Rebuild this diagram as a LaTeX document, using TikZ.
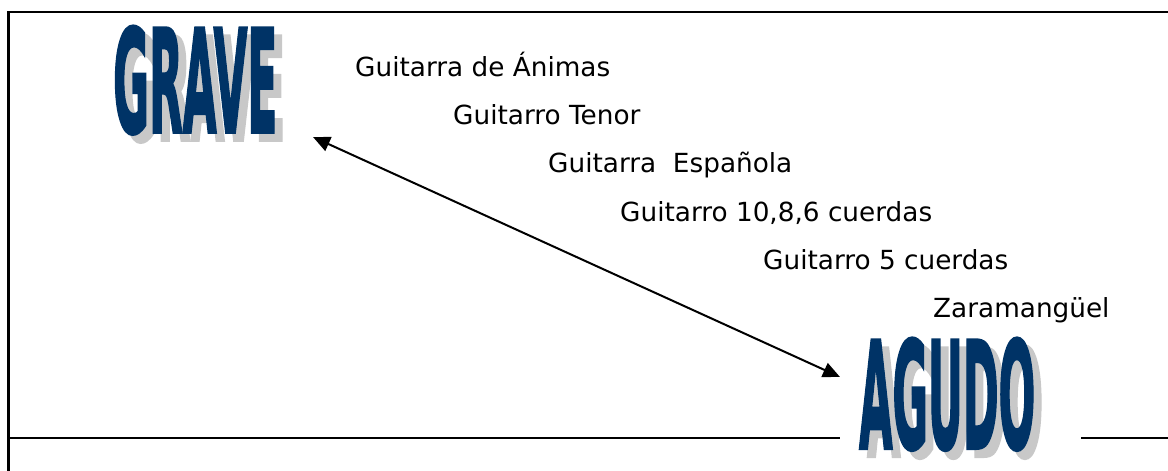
\documentclass[tikz,border=0pt]{standalone}
\usepackage{fontspec}
\setmainfont{DejaVu Sans}
\newfontfamily\heavyfont{DejaVu Sans Bold}[FakeBold=2.5]
\usepackage{graphicx}
\usetikzlibrary{arrows.meta}
\definecolor{navy}{RGB}{0,51,102}
\definecolor{shade}{RGB}{200,200,200}
\tikzset{
  frameline/.style={line width=2.6pt},
  lbl/.style={anchor=base west, inner sep=0pt, font=\fontsize{26.3}{30}\selectfont},
  bigword/.style={anchor=north west, inner sep=0pt, text=navy},
  shadowword/.style={anchor=north west, inner sep=0pt, text=shade},
  dblarrow/.style={line width=2pt, {Triangle[length=17pt,width=15pt]}-{Triangle[length=17pt,width=15pt]}}
}
\newcommand{\bigtxt}[3]{\resizebox{#1pt}{#2pt}{\heavyfont\bfseries #3}}
\begin{document}
\begin{tikzpicture}[x=1pt,y=-1pt]
\useasboundingbox (0,0) rectangle (1168,471);
% frame
\draw[frameline] (8.5,471) -- (8.5,12) -- (1168,12);
\draw[frameline] (8.5,438) -- (840,438);
\draw[frameline] (1081,438) -- (1168,438);
% big words with shadows
\node[shadowword] (graveS) at (121,34) {\bigtxt{164}{106}{GRAVE}};
\node[bigword] (grave) at (113,26) {\bigtxt{164}{106}{GRAVE}};
\node[shadowword] (agudoS) at (867,346) {\bigtxt{176}{110}{AGUDO}};
\node[bigword] (agudo) at (859,338) {\bigtxt{176}{110}{AGUDO}};
% labels
\node[lbl] (l1) at (355,76) {Guitarra de Ánimas};
\node[lbl] (l2) at (453,124.5) {Guitarro Tenor};
\node[lbl] (l3) at (548,172.7) {Guitarra\ \ Española};
\node[lbl] (l4) at (620,221) {Guitarro 10,8,6 cuerdas};
\node[lbl] (l5) at (763,269) {Guitarro 5 cuerdas};
\node[lbl] (l6) at (933,317) {Zaramangüel};
% arrow
\coordinate (gtip) at (313,137);
\coordinate (atip) at (840,377);
\draw[dblarrow] (gtip) -- (atip);
\end{tikzpicture}
\end{document}
